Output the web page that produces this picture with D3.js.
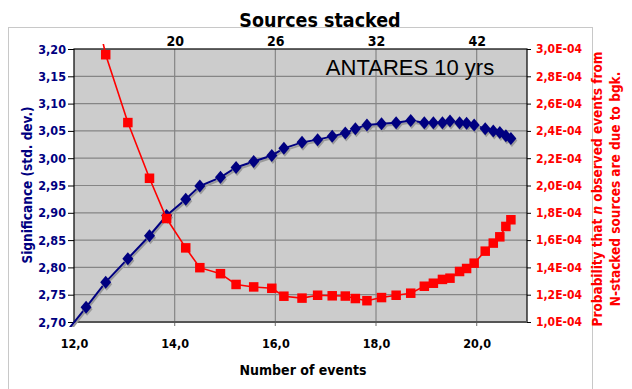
<!DOCTYPE html>
<html>
<head>
<meta charset="utf-8">
<script src="https://d3js.org/d3.v7.min.js"></script>
<style>
  body { margin: 0; background: #fff; }
  text { font-family: "DejaVu Sans Condensed", "DejaVu Sans", sans-serif; font-weight: bold; }
</style>
</head>
<body>
<div id="svg_chart"></div>
<script>
///////////// Data //////////////
// number of events (x), shared by both series
var events = [11.85, 12.24, 12.63, 13.07, 13.50, 13.84, 14.22, 14.50, 14.91, 15.22, 15.57, 15.93,
  16.17, 16.53, 16.84, 17.13, 17.39, 17.59, 17.82, 18.11, 18.40, 18.69, 18.96, 19.14,
  19.32, 19.47, 19.66, 19.80, 19.95, 20.17, 20.33, 20.46, 20.58, 20.68];
// significance in std. dev. (left axis)
var significance = [2.682, 2.727, 2.773, 2.816, 2.858, 2.895, 2.925, 2.949, 2.965, 2.983, 2.994, 3.005,
  3.018, 3.029, 3.034, 3.040, 3.046, 3.054, 3.061, 3.063, 3.065, 3.069, 3.065, 3.065,
  3.065, 3.068, 3.065, 3.064, 3.061, 3.054, 3.050, 3.047, 3.041, 3.036];
// probability that events are due to bgk, in units of 1E-04 (right axis)
var probability = [null, 3.60, 2.958, 2.461, 2.053, 1.758, 1.543, 1.398, 1.354, 1.275, 1.257, 1.247,
  1.189, 1.175, 1.196, 1.192, 1.190, 1.172, 1.156, 1.179, 1.196, 1.211, 1.262, 1.284,
  1.312, 1.321, 1.370, 1.392, 1.431, 1.519, 1.578, 1.624, 1.700, 1.749];
// top axis: sources stacked, placed at these event values
var sources_labels = ['20', '26', '32', '42'];
var sources_at = [14, 16, 18, 20];

var x_ticks = [12, 14, 16, 18, 20];
var left_ticks = [2.70, 2.75, 2.80, 2.85, 2.90, 2.95, 3.00, 3.05, 3.10, 3.15, 3.20];
var right_ticks = [1.0, 1.2, 1.4, 1.6, 1.8, 2.0, 2.2, 2.4, 2.6, 2.8, 3.0];

///////////// Layout //////////////
const svg_width = 632, svg_height = 389;
const plot = {left: 74, right: 527, top: 49, bottom: 322};
const navy = '#000080', red = '#ff0000';

var svg = d3.select('#svg_chart').append('svg')
  .attr('width', svg_width).attr('height', svg_height);

// chart frame (light gray)
svg.append('rect').attr('x', 8.5).attr('y', 27.5)
  .attr('width', 584).attr('height', 400)
  .attr('fill', 'none').attr('stroke', '#c8c8c8');

var x_scale = d3.scaleLinear().domain([12, 21]).range([plot.left, plot.right]);
var y_left = d3.scaleLinear().domain([2.70, 3.20]).range([plot.bottom, plot.top]);
var y_right = d3.scaleLinear().domain([1.0, 3.0]).range([plot.bottom, plot.top]);

// plot background
svg.append('rect').attr('x', plot.left).attr('y', plot.top)
  .attr('width', plot.right - plot.left).attr('height', plot.bottom - plot.top)
  .attr('fill', '#cccccc');

// gridlines
svg.append('g').selectAll('line').data(left_ticks.slice(1, -1)).enter().append('line')
  .attr('x1', plot.left).attr('x2', plot.right)
  .attr('y1', d => y_left(d)).attr('y2', d => y_left(d))
  .attr('stroke', '#858585').attr('stroke-width', 1.2);
svg.append('g').selectAll('line').data(x_ticks.slice(1)).enter().append('line')
  .attr('x1', d => x_scale(d)).attr('x2', d => x_scale(d))
  .attr('y1', plot.top).attr('y2', plot.bottom + 4)
  .attr('stroke', '#858585').attr('stroke-width', 1.2);

svg.append('rect').attr('x', plot.left).attr('y', plot.top)
  .attr('width', plot.right - plot.left).attr('height', plot.bottom - plot.top)
  .attr('fill', 'none').attr('stroke', '#000').attr('stroke-width', 1.2);
svg.append('line').attr('x1', plot.left).attr('x2', plot.right)
  .attr('y1', plot.bottom).attr('y2', plot.bottom)
  .attr('stroke', '#555').attr('stroke-width', 2);

///////////// Axes //////////////
var left_axis = d3.axisLeft(y_left).tickValues(left_ticks)
  .tickFormat(d => d3.format('.2f')(d).replace('.', ',')).tickSizeOuter(0).tickSize(6).tickPadding(2);
var left_g = svg.append('g').attr('transform', 'translate(' + plot.left + ',0)').call(left_axis);
left_g.select('.domain').remove();
left_g.selectAll('line').attr('stroke', '#000');
left_g.selectAll('text').attr('fill', navy).attr('font-size', 12.5);

var right_axis = d3.axisRight(y_right).tickValues(right_ticks)
  .tickFormat(d => d3.format('.1f')(d).replace('.', ',') + 'E-04').tickSizeOuter(0).tickSize(4).tickPadding(5);
var right_g = svg.append('g').attr('transform', 'translate(' + plot.right + ',0)').call(right_axis);
right_g.select('.domain').remove();
right_g.selectAll('line').attr('stroke', '#000');
right_g.selectAll('text').attr('fill', red).attr('font-size', 12);

var bottom_axis = d3.axisBottom(x_scale).tickValues(x_ticks)
  .tickFormat(d => d3.format('.1f')(d).replace('.', ',')).tickSize(0).tickPadding(17);
var bottom_g = svg.append('g').attr('transform', 'translate(0,' + plot.bottom + ')').call(bottom_axis);
bottom_g.select('.domain').remove();
bottom_g.selectAll('text').attr('fill', '#000').attr('font-size', 12.5);

var top_axis = d3.axisTop(x_scale).tickValues(sources_at)
  .tickFormat((d, i) => sources_labels[i]).tickSize(0).tickPadding(3);
var top_g = svg.append('g').attr('transform', 'translate(0,' + plot.top + ')').call(top_axis);
top_g.select('.domain').remove();
top_g.selectAll('text').attr('fill', '#000').attr('font-size', 14);

// titles
function white_behind(t, pad) {
  var b = t.node().getBBox();
  svg.insert('rect', ':first-child').attr('fill', '#fff')
    .attr('x', b.x - pad).attr('y', b.y - pad).attr('width', b.width + pad * 2).attr('height', b.height + pad * 2);
}
var title = svg.append('text').attr('x', 320).attr('y', 27)
  .attr('text-anchor', 'middle').attr('font-size', 19.5).attr('fill', '#000')
  .text('Sources stacked');

svg.append('text').attr('x', 303).attr('y', 375)
  .attr('text-anchor', 'middle').attr('font-size', 14).attr('fill', '#000')
  .text('Number of events');

svg.append('text').attr('transform', 'translate(32,185) rotate(-90)')
  .attr('text-anchor', 'middle').attr('font-size', 13.5).attr('fill', navy)
  .text('Significance (std. dev.)');

var right_title = svg.append('g').attr('transform', 'translate(602,189) rotate(-90)');
var line1 = right_title.append('text').attr('x', 0).attr('y', 0)
  .attr('text-anchor', 'middle').attr('font-size', 13.5).attr('fill', red);
line1.append('tspan').text('Probability that ');
line1.append('tspan').attr('font-style', 'italic').text('n');
line1.append('tspan').text(' observed events from');
right_title.append('text').attr('x', 0).attr('y', 18)
  .attr('text-anchor', 'middle').attr('font-size', 13.5).attr('fill', red)
  .text('N-stacked sources are due to bgk.');

// white patches where titles sit on the frame
svg.insert('rect', ':first-child').attr('fill', '#fff').attr('x', 586).attr('y', 33).attr('width', 40).attr('height', 295);
white_behind(title, 4);

svg.append('text').attr('x', 410).attr('y', 75)
  .attr('text-anchor', 'middle').attr('font-size', 22).attr('fill', '#000')
  .style('font-family', '"Liberation Sans", Arial, sans-serif').style('font-weight', 'normal')
  .text('ANTARES 10 yrs');

///////////// Series //////////////
svg.append('clipPath').attr('id', 'clip').append('rect')
  .attr('x', plot.left - 5).attr('y', plot.top - 5)
  .attr('width', plot.right - plot.left + 10).attr('height', plot.bottom - plot.top + 10);

var sig_data = events.map((e, i) => ({e: e, v: significance[i]}));
var prob_data = events.map((e, i) => ({e: e, v: probability[i]})).filter(d => d.v !== null);

var sig_line = d3.line().x(d => x_scale(d.e)).y(d => y_left(d.v));
var prob_line = d3.line().x(d => x_scale(d.e)).y(d => y_right(d.v));

var series = svg.append('g').attr('clip-path', 'url(#clip)');
var diamond = 'M0,-6.5L5.5,0L0,6.5L-5.5,0Z';

// light shadow under the markers
series.append('path').datum(sig_data).attr('d', sig_line)
  .attr('transform', 'translate(1,2)').attr('fill', 'none').attr('stroke', '#999').attr('stroke-width', 2);
series.append('path').datum(sig_data).attr('d', sig_line)
  .attr('fill', 'none').attr('stroke', navy).attr('stroke-width', 2);

var in_left = sig_data.filter(d => d.v >= 2.70 && d.e >= 12);
series.selectAll('.dshadow').data(in_left).enter().append('path').attr('class', 'dshadow')
  .attr('d', diamond).attr('fill', '#9a9a9a')
  .attr('transform', d => 'translate(' + (x_scale(d.e) + 1) + ',' + (y_left(d.v) + 2) + ')');
series.selectAll('.diamond').data(in_left).enter().append('path').attr('class', 'diamond')
  .attr('d', diamond).attr('fill', navy)
  .attr('transform', d => 'translate(' + x_scale(d.e) + ',' + y_left(d.v) + ')');

series.append('path').datum(prob_data).attr('d', prob_line)
  .attr('fill', 'none').attr('stroke', red).attr('stroke-width', 1.6);

var in_right = prob_data.filter(d => d.v <= 3.0);
series.selectAll('.square').data(in_right).enter().append('rect').attr('class', 'square')
  .attr('x', d => x_scale(d.e) - 4.75).attr('y', d => y_right(d.v) - 4.75)
  .attr('width', 9.5).attr('height', 9.5).attr('fill', red);
</script>
</body>
</html>
